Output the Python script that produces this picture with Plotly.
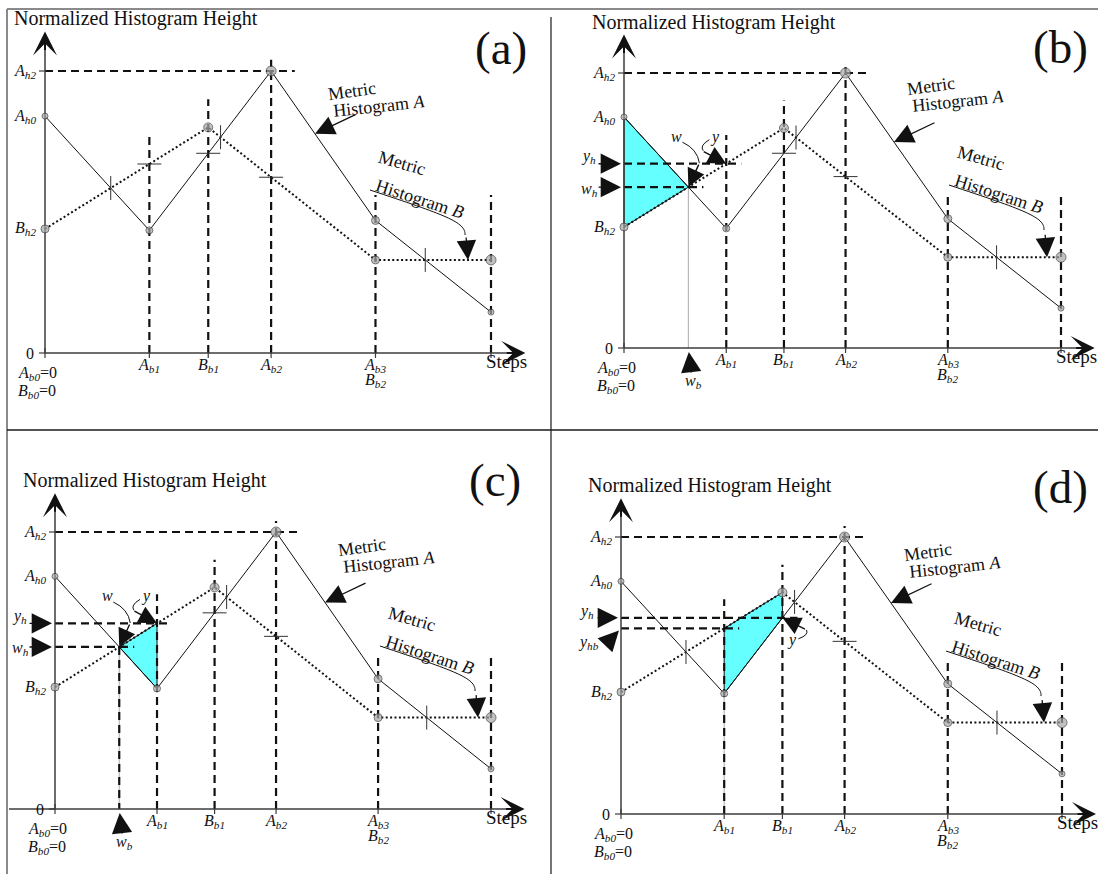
import numpy as np
import plotly.graph_objects as go

W, H = 1098, 874

# ---------------- data (normalised units: A_h2 = 10, last step = 10) ----------------
A_STEPS = [0.0, 2.34, 5.07, 7.41, 10.0]      # A_b0, A_b1, A_b2, A_b3, last step
A_HEIGHTS = [8.4, 4.35, 10.0, 4.7, 1.45]
B_STEPS = [0.0, 3.66, 7.41, 10.0]            # B_b0, B_b1, B_b2 (= A_b3), last step
B_HEIGHTS = [4.4, 8.0, 3.3, 3.3]

X_TICK_POS = [A_STEPS[1], B_STEPS[1], A_STEPS[2], A_STEPS[3], A_STEPS[4]]
X_TICK_TEXT = ["<i>A</i><sub><i>b1</i></sub>", "<i>B</i><sub><i>b1</i></sub>",
               "<i>A</i><sub><i>b2</i></sub>", "<i>A</i><sub><i>b3</i></sub>", "Steps"]
X_TICK_TEXT2 = ["", "", "", "<i>B</i><sub><i>b2</i></sub>", ""]
Y_TICK_POS = [A_HEIGHTS[2], A_HEIGHTS[0], B_HEIGHTS[0], 0.0]
Y_TICK_TEXT = ["<i>A</i><sub><i>h2</i></sub>", "<i>A</i><sub><i>h0</i></sub>",
               "<i>B</i><sub><i>h2</i></sub>", "0"]
ORIGIN_TEXT = ["<i>A</i><sub><i>b0</i></sub>=0", "<i>B</i><sub><i>b0</i></sub>=0"]
PANEL_LETTERS = ["(a)", "(b)", "(c)", "(d)"]
TITLE = "Normalized Histogram Height"
LABEL_A = ["Metric", "Histogram <i>A</i>"]
LABEL_B = ["Metric", "Histogram <i>B</i>"]

Ab1, Ab2, Ab3, END = A_STEPS[1], A_STEPS[2], A_STEPS[3], A_STEPS[4]
Bb1 = B_STEPS[1]
AH0, AH2, BH2 = A_HEIGHTS[0], A_HEIGHTS[2], B_HEIGHTS[0]


def fA(x):
    return float(np.interp(x, A_STEPS, A_HEIGHTS))


def fB(x):
    return float(np.interp(x, B_STEPS, B_HEIGHTS))


def crossings():
    xs = sorted(set(A_STEPS) | set(B_STEPS))
    pts = []
    for x0, x1 in zip(xs[:-1], xs[1:]):
        d0, d1 = fA(x0) - fB(x0), fA(x1) - fB(x1)
        if d0 * d1 < 0:
            xc = x0 + d0 / (d0 - d1) * (x1 - x0)
            pts.append((xc, fA(xc)))
    return pts


CROSS = crossings()
WX, WY = CROSS[0]

# ---------------- layout / style ----------------
SERIF = "Liberation Serif, Times New Roman, DejaVu Serif, serif"
INK = "#111111"
AXIS = "#3c3c3c"
CYAN = "#66ffff"
DASH = "8px,5px"
DOT = "2px,2.4px"
GUIDE_TOPS = [7.75, 9.0, 10.4, 5.6, 5.6]
AH2_GUIDE = 5.6
Y_TIP, X_TIP = 11.4, 10.77
A_SIZES = [6, 7, 10, 8, 6]
B_SIZES = [8, 9, 8, 10]

PANELS = [
    dict(box=(8, 9, 551, 430), origin=(45, 353), end_px=491, top_px=71,
         letter=(501, 48), title=(12, 18), fill=None, left=False,
         ticks=("c0", "b_ab1", "a_bb1", "c1", "b_ab2", "c2")),
    dict(box=(551, 9, 1098, 430), origin=(624, 348), end_px=1061, top_px=73,
         letter=(1060, 47), title=(590, 22), fill="left", left=False,
         ticks=("a_bb1", "c1", "b_ab2", "c2")),
    dict(box=(8, 430, 551, 874), origin=(55, 809), end_px=491, top_px=532,
         letter=(495, 480), title=(21, 480), fill="mid", left=True,
         ticks=("a_bb1", "c1", "b_ab2", "c2")),
    dict(box=(551, 430, 1098, 874), origin=(621, 814), end_px=1062, top_px=537,
         letter=(1060, 487), title=(586, 485), fill="quad", left=False,
         ticks=("c0", "c1", "b_ab2", "c2")),
]

fig = go.Figure()
annotations = []
shapes = []
axes = {}

for i, p in enumerate(PANELS):
    n = "" if i == 0 else str(i + 1)
    xr, yr = "x" + n, "y" + n
    bx0, by0, bx1, by1 = p["box"]
    ox, oy = p["origin"]
    sx = (p["end_px"] - ox) / END
    sy = (oy - p["top_px"]) / AH2
    axes["xaxis" + n] = dict(domain=[bx0 / W, bx1 / W], range=[(bx0 - ox) / sx, (bx1 - ox) / sx],
                             visible=False, fixedrange=True, anchor=yr)
    axes["yaxis" + n] = dict(domain=[1 - by1 / H, 1 - by0 / H], range=[(oy - by1) / sy, (oy - by0) / sy],
                             visible=False, fixedrange=True, anchor=xr)

    def at(tx, ty, dxp, dyp):
        return tx + dxp / sx, ty - dyp / sy

    def line(xs, ys, width=1.0, color=INK, dash=None):
        fig.add_trace(go.Scatter(x=xs, y=ys, xaxis=xr, yaxis=yr, mode="lines",
                                 line=dict(width=width, color=color, dash=dash),
                                 hoverinfo="skip", showlegend=False))

    def text(x, y, s, size=16, xa="center", ya="middle", xs=0, ys=0, angle=0):
        annotations.append(dict(xref=xr, yref=yr, x=x, y=y, text=s, showarrow=False,
                                font=dict(family=SERIF, size=size, color=INK),
                                xanchor=xa, yanchor=ya, xshift=xs, yshift=ys, textangle=angle))

    def arrow(x, y, axp, ayp, size=2.9, width=1.4, standoff=0, head=2):
        annotations.append(dict(xref=xr, yref=yr, x=x, y=y, ax=axp, ay=ayp, axref="pixel", ayref="pixel",
                                text="", showarrow=True, arrowhead=head, arrowsize=size, arrowwidth=width,
                                arrowcolor=INK, standoff=standoff))

    def path(pts, cmd="Q"):
        d = "M {:.4f},{:.4f} {} ".format(pts[0][0], pts[0][1], cmd) + " ".join(
            "{:.4f},{:.4f}".format(a, b) for a, b in pts[1:])
        shapes.append(dict(type="path", xref=xr, yref=yr, path=d, line=dict(color=INK, width=1)))

    # ---- cyan region
    poly = None
    if p["fill"] == "left":
        poly = ([0, WX, 0], [AH0, WY, BH2])
    elif p["fill"] == "mid":
        poly = ([WX, Ab1, Ab1], [WY, fB(Ab1), fA(Ab1)])
    elif p["fill"] == "quad":
        poly = ([Ab1, Ab1, Bb1, Bb1], [fA(Ab1), fB(Ab1), fB(Bb1), fA(Bb1)])
    if poly:
        fig.add_trace(go.Scatter(x=poly[0] + poly[0][:1], y=poly[1] + poly[1][:1], xaxis=xr, yaxis=yr,
                                 mode="lines", fill="toself", fillcolor=CYAN,
                                 line=dict(color=INK, width=1), hoverinfo="skip", showlegend=False))

    # ---- thin grey drop lines
    if p["fill"] in ("left", "mid"):
        line([WX, WX], [WY, 0], width=1.2, color="#b8b8b8")
    if p["fill"] == "quad":
        line([Ab1, Ab1], [fA(Ab1), 0], width=1.2, color="#b8b8b8")

    # ---- dashed guides
    for xt, top in zip(X_TICK_POS, GUIDE_TOPS):
        line([xt, xt], [0, top], width=2.2, dash=DASH)
    line([0, AH2_GUIDE], [AH2, AH2], width=2.2, dash=DASH)
    ext = 15 / sx
    if p["fill"] == "mid":
        line([WX, WX], [WY, 0], width=2.2, dash=DASH)
    if p["fill"] in ("left", "mid"):
        line([0, Ab1 + ext], [fB(Ab1)] * 2, width=2.2, dash=DASH)
        line([0, WX + ext], [WY] * 2, width=2.2, dash=DASH)
    if p["fill"] == "quad":
        line([0, Bb1 + ext], [fA(Bb1)] * 2, width=2.2, dash=DASH)
        line([0, Ab1 + ext], [fB(Ab1)] * 2, width=2.2, dash=DASH)

    # ---- axes
    xstart = (bx0 + 1 - ox) / sx if p["left"] else 0
    line([xstart, X_TIP - 6 / sx], [0, 0], width=1.5, color=AXIS)
    line([0, 0], [0, Y_TIP - 6 / sy], width=1.5, color=AXIS)
    arrow(0, Y_TIP, 0, 20, size=2.0, width=2.0, head=3)
    arrow(X_TIP, 0, -20, 0, size=2.0, width=2.0, head=3)
    tx, ty = [], []
    for xt in X_TICK_POS:
        tx += [xt, xt, None]
        ty += [0, -5 / sy, None]
    tx += [-6 / sx, 0, None, 0, 0, None, -6 / sx, 0, None]
    ty += [0, 0, None, -5 / sy, 5 / sy, None, AH2, AH2, None]
    line(tx, ty, width=1.2, color=AXIS)

    # ---- curves
    line(A_STEPS, A_HEIGHTS, width=1.0)
    line(B_STEPS, B_HEIGHTS, width=2.0, dash=DOT)

    # ---- small cross ticks
    cx, cy = [], []
    hv, hh = 12 / sy, 12 / sx
    tickdefs = {
        "c0": ("v", CROSS[0]), "c1": ("v", CROSS[1]), "c2": ("v", CROSS[2]),
        "b_ab1": ("h", (Ab1, fB(Ab1))), "a_bb1": ("h", (Bb1, fA(Bb1))), "b_ab2": ("h", (Ab2, fB(Ab2))),
    }
    for key in p["ticks"]:
        kind, (px_, py_) = tickdefs[key]
        if kind == "v":
            cx += [px_, px_, None]
            cy += [py_ - hv, py_ + hv, None]
        else:
            cx += [px_ - hh, px_ + hh, None]
            cy += [py_, py_, None]
    line(cx, cy, width=1.0, color="#333333")

    # ---- vertex markers
    for xs_, ys_, sz in ((A_STEPS, A_HEIGHTS, A_SIZES), (B_STEPS, B_HEIGHTS, B_SIZES)):
        fig.add_trace(go.Scatter(x=xs_, y=ys_, xaxis=xr, yaxis=yr, mode="markers",
                                 marker=dict(size=sz, color="#a8a8a8", line=dict(color="#3a3a3a", width=1)),
                                 hoverinfo="skip", showlegend=False, cliponaxis=False))

    # ---- axis texts
    for yv, s in zip(Y_TICK_POS, Y_TICK_TEXT):
        text(0, yv, s, size=16, xa="right", xs=-9 if s == "0" else -7)
    for xt, s, s2 in zip(X_TICK_POS, X_TICK_TEXT, X_TICK_TEXT2):
        if s == "Steps":
            text(xt, 0, s, size=19, ya="top", xs=15, ys=4)
        else:
            text(xt, 0, s, size=16, ya="top", ys=-1)
        if s2:
            text(xt, 0, s2, size=16, ya="top", ys=-16)
    text(0, 0, ORIGIN_TEXT[0], size=16, xa="left", ya="top", xs=-29, ys=-9)
    text(0, 0, ORIGIN_TEXT[1], size=16, xa="left", ya="top", xs=-29, ys=-27)

    # ---- "Metric Histogram A" label with arrow
    x_, y_ = at(0, 0, 307, -262)
    text(x_, y_, LABEL_A[0], size=18, angle=-8)
    x_, y_ = at(0, 0, 334, -247)
    text(x_, y_, LABEL_A[1], size=18, angle=-6)
    xa_ = 270 / sx
    arrow(xa_, fA(xa_), 42, -20, size=3.0, width=1.3)

    # ---- "Metric Histogram B" label with curved arrow
    x_, y_ = at(0, 0, 357, -190)
    text(x_, y_, LABEL_B[0], size=18, angle=16)
    x_, y_ = at(0, 0, 375, -154)
    text(x_, y_, LABEL_B[1], size=18, angle=18)
    path([at(0, 0, 325, -163), at(0, 0, 400, -138), at(0, 0, 421, -131), at(0, 0, 420, -118)], cmd="C")
    xb_ = 423 / sx
    arrow(xb_, fB(xb_), -2, -24, size=3.0, width=1.3)

    # ---- panel specific annotations
    if p["fill"] in ("left", "mid"):
        yh = fB(Ab1)
        arrow(0, yh, -27, 0, standoff=3)
        text(0, yh, "<i>y</i><sub><i>h</i></sub>", size=16, xs=-36, ys=7)
        arrow(0, WY, -27, 0, standoff=3)
        text(0, WY, "<i>w</i><sub><i>h</i></sub>", size=16, xs=-35, ys=-2)
        arrow(WX, 0, 3, 26, standoff=4)
        text(WX, 0, "<i>w</i><sub><i>b</i></sub>", size=16, xs=5, ys=-33)
        # w leader
        x_, y_ = at(WX, WY, -12, -51)
        text(x_, y_, "<i>w</i>", size=16)
        path([at(WX, WY, -6, -45), at(WX, WY, 9, -38), at(WX, WY, 11, -24)])
        arrow(WX, WY, 11, -24, size=2.6)
        # y leader
        x_, y_ = at(Ab1, yh, -11, -27)
        text(x_, y_, "<i>y</i>", size=16)
        path([at(Ab1, yh, -17, -24), at(Ab1, yh, -27, -18), at(Ab1, yh, -23, -13)])
        arrow(Ab1, yh, -24, -13, size=2.6)
    if p["fill"] == "quad":
        yh, yhb = fA(Bb1), fB(Ab1)
        arrow(0, yh, -25, 0, standoff=3)
        text(0, yh, "<i>y</i><sub><i>h</i></sub>", size=16, xs=-35, ys=6)
        arrow(0, yhb, -17, 18, standoff=3)
        text(0, yhb, "<i>y</i><sub><i>hb</i></sub>", size=16, xs=-33, ys=-14)
        x_, y_ = at(Bb1, yh, 10, 22)
        text(x_, y_, "<i>y</i>", size=16)
        path([at(Bb1, yh, 16, 21), at(Bb1, yh, 27, 17), at(Bb1, yh, 24, 12)])
        arrow(Bb1, yh, 24, 12, size=2.6)

    # ---- title and panel letter (paper coordinates)
    annotations.append(dict(xref="paper", yref="paper", x=p["title"][0] / W, y=1 - p["title"][1] / H,
                            text=TITLE, showarrow=False, xanchor="left", yanchor="middle",
                            font=dict(family=SERIF, size=20, color=INK)))
    annotations.append(dict(xref="paper", yref="paper", x=p["letter"][0] / W, y=1 - p["letter"][1] / H,
                            text=PANEL_LETTERS[i], showarrow=False, xanchor="center", yanchor="middle",
                            font=dict(family=SERIF, size=47, color=INK)))


def pline(x0, y0, x1, y1, color, width):
    shapes.append(dict(type="line", xref="paper", yref="paper", x0=x0 / W, y0=1 - y0 / H,
                       x1=x1 / W, y1=1 - y1 / H, line=dict(color=color, width=width)))


pline(7, 9, 7, 874, "#8a8a8a", 2)
pline(7, 9, 1098, 9, "#8a8a8a", 2)
pline(7, 430, 1098, 430, "#1a1a1a", 1.5)
pline(551, 17, 551, 874, "#1a1a1a", 1.2)

fig.update_layout(width=W, height=H, margin=dict(l=0, r=0, t=0, b=0),
                  paper_bgcolor="white", plot_bgcolor="white", showlegend=False,
                  hovermode=False, annotations=annotations, shapes=shapes, **axes)

fig.write_html("out.html", config={"displayModeBar": False},
               post_script="document.body.style.margin='0px';document.body.style.overflow='hidden';")
